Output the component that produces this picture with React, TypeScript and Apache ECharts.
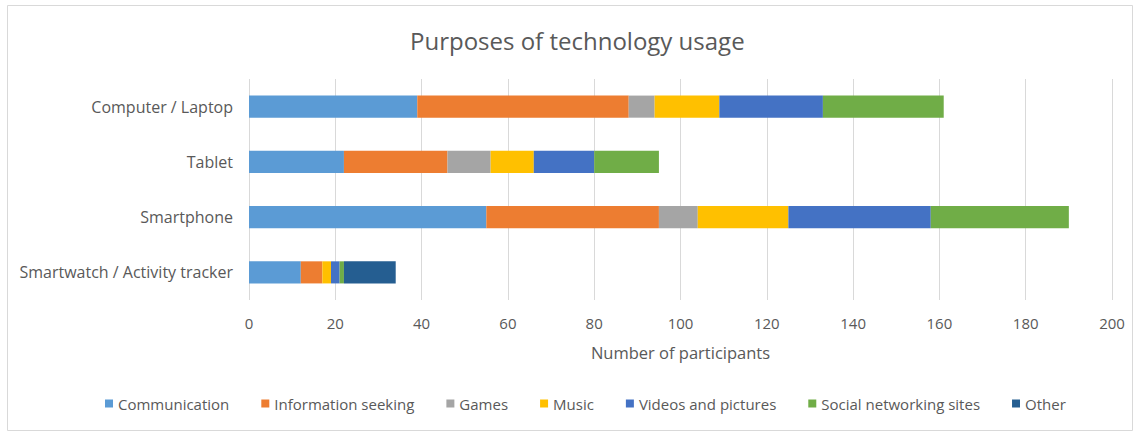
import React, { useEffect, useRef } from "react";
import * as echarts from "echarts";

const categories = ["Smartwatch / Activity tracker", "Smartphone", "Tablet", "Computer / Laptop"];
const seriesNames = ["Communication", "Information seeking", "Games", "Music", "Videos and pictures", "Social networking sites", "Other"];
const communication = [12, 55, 22, 39];
const infoSeeking = [5, 40, 24, 49];
const games = [0, 9, 10, 6];
const music = [2, 21, 10, 15];
const videos = [2, 33, 14, 24];
const social = [1, 32, 15, 28];
const other = [12, 0, 0, 0];
const colors = ["#5B9BD5", "#ED7D31", "#A5A5A5", "#FFC000", "#4472C4", "#70AD47", "#255E91"];
const xTicks = [0, 20, 40, 60, 80, 100, 120, 140, 160, 180, 200];

const FONT = "Open Sans";

export default function App() {
  const ref = useRef<HTMLDivElement>(null);
  useEffect(() => {
    if (!ref.current) return;
    const chart = echarts.init(ref.current, null, { renderer: "svg" });
    const values = [communication, infoSeeking, games, music, videos, social, other];
    chart.setOption({
      animation: false,
      backgroundColor: "#ffffff",
      title: {
        text: "Purposes of technology usage",
        left: 405,
        top: 23,
        textStyle: { color: "#595959", fontSize: 24, fontWeight: "normal", fontFamily: FONT },
      },
      graphic: [
        {
          type: "rect",
          shape: { x: 7.5, y: 5.5, width: 1125, height: 425 },
          style: { fill: "none", stroke: "#d9d9d9", lineWidth: 1 },
          silent: true,
        },
      ],
      legend: {
        bottom: 17,
        left: 100,
        icon: "rect",
        itemWidth: 8,
        itemHeight: 8,
        itemGap: 32,
        textStyle: { color: "#595959", fontSize: 15, fontFamily: FONT },
        data: seriesNames,
      },
      grid: { left: 249, right: 28, top: 79, bottom: 133 },
      xAxis: {
        type: "value",
        min: 0,
        max: 200,
        interval: 20,
        name: "Number of participants",
        nameLocation: "middle",
        nameGap: 44,
        nameTextStyle: { color: "#595959", fontSize: 16.5, fontFamily: FONT },
        axisLine: { show: false },
        axisTick: { show: false },
        axisLabel: {
          color: "#595959",
          fontSize: 15,
          fontFamily: FONT,
          margin: 15,
          formatter: (v: number) => (xTicks.includes(v) ? String(v) : ""),
        },
        splitLine: { lineStyle: { color: "#d9d9d9", width: 1 } },
      },
      yAxis: {
        type: "category",
        data: categories,
        axisLine: { show: false },
        axisTick: { show: false },
        axisLabel: { color: "#595959", fontSize: 16, fontFamily: FONT, margin: 16 },
      },
      series: seriesNames.map((name, i) => ({
        name,
        type: "bar",
        stack: "total",
        barCategoryGap: "60%",
        data: values[i],
        itemStyle: { color: colors[i] },
      })),
    });
    return () => chart.dispose();
  }, []);
  return <div ref={ref} style={{ width: 1140, height: 433, position: "absolute", left: 0, top: 0 }} />;
}
